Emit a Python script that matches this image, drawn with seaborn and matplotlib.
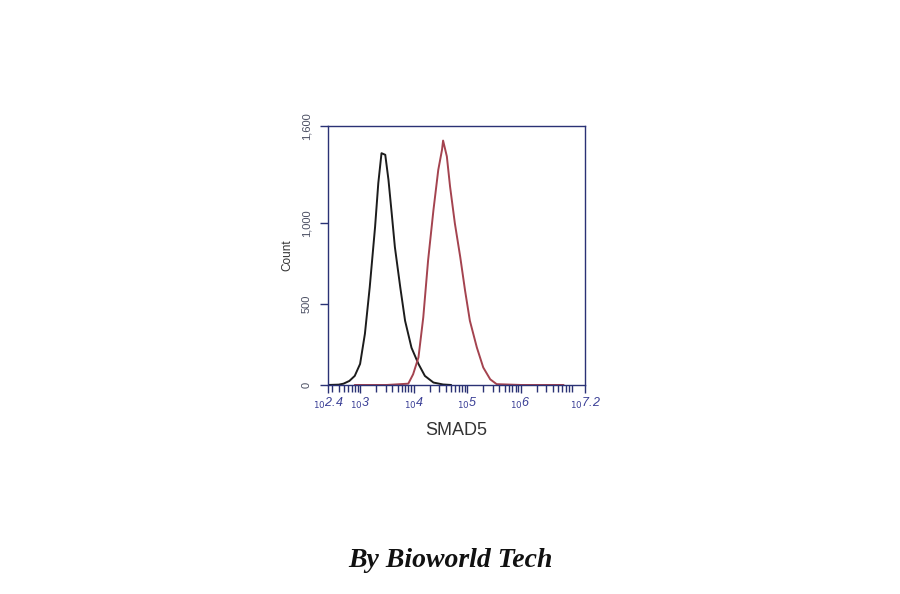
import numpy as np
import pandas as pd
import matplotlib
matplotlib.use("Agg")
import matplotlib.pyplot as plt
import matplotlib.ticker as mticker
import seaborn as sns

# ---- data (x as log10 of SMAD5 intensity) ----
ctrl_log = [2.40, 2.60, 2.69, 2.80, 2.90, 3.00, 3.09, 3.18, 3.28, 3.34, 3.40, 3.47,
            3.53, 3.59, 3.65, 3.75, 3.84, 3.96, 4.09, 4.21, 4.37, 4.55, 4.70]
ctrl_cnt = [0, 2, 8, 25, 56, 130, 316, 604, 977, 1247, 1432, 1422,
            1267, 1062, 851, 604, 397, 230, 130, 56, 15, 3, 0]

smad_log = [2.90, 3.50, 3.90, 3.99, 4.09, 4.18, 4.27, 4.37, 4.46, 4.53, 4.55, 4.62,
            4.68, 4.77, 4.87, 4.96, 5.05, 5.18, 5.30, 5.43, 5.55, 6.00, 6.80]
smad_cnt = [0, 0, 8, 66, 170, 418, 770, 1081, 1329, 1453, 1510, 1412,
            1226, 998, 791, 584, 397, 232, 108, 35, 5, 0, 0]

x_min_exp, x_max_exp = 2.4, 7.2
x_tick_exps = [2.4, 3, 4, 5, 6, 7.2]
x_tick_text = ["2.4", "3", "4", "5", "6", "7.2"]
y_ticks = [0, 500, 1000, 1600]
y_tick_text = ["0", "500", "1,000", "1,600"]

df = pd.concat([
    pd.DataFrame({"x": 10 ** np.array(ctrl_log), "count": ctrl_cnt, "s": "ctrl"}),
    pd.DataFrame({"x": 10 ** np.array(smad_log), "count": smad_cnt, "s": "smad"}),
])

sns.set_style("white")
plt.rcParams["font.family"] = ["Liberation Sans", "DejaVu Sans"]

fig = plt.figure(figsize=(9, 5.94), dpi=100)
ax = fig.add_axes([0.3644, 0.3519, 0.2856, 0.436])

navy = "#2a3275"
sns.lineplot(data=df, x="x", y="count", hue="s", palette={"ctrl": "#1c1c1c", "smad": "#a4434f"},
             ax=ax, legend=False, linewidth=1.4, sort=False, estimator=None)
ax.set_xscale("log")
ax.set_xlim(10 ** x_min_exp, 10 ** x_max_exp)
ax.set_ylim(0, 1600)

for sp in ax.spines.values():
    sp.set_color(navy)
    sp.set_linewidth(1.0)

ax.set_xticks([10 ** e for e in x_tick_exps])
ax.set_xticklabels([r"${}_{10}$" + t for t in x_tick_text], color="#3a3f96",
                   fontsize=9, style="italic")
ax.xaxis.set_minor_locator(mticker.LogLocator(base=10, subs=np.arange(2, 10), numticks=20))
ax.xaxis.set_minor_formatter(mticker.NullFormatter())
ax.tick_params(axis="x", which="major", direction="out", length=6, width=1, color=navy, pad=2, bottom=True)
ax.tick_params(axis="x", which="minor", direction="out", length=5, width=1, color=navy, bottom=True)

ax.set_yticks(y_ticks)
ax.set_yticklabels(y_tick_text, rotation=90, va="center", color="#4a4e62", fontsize=8)
ax.tick_params(axis="y", which="major", direction="out", length=6, width=1, color=navy, pad=6, left=True)

ax.set_xlabel("SMAD5", fontsize=13, color="#333333", labelpad=8)
ax.set_ylabel("Count", fontsize=8.5, color="#333333", labelpad=6)

fig.text(0.5, 0.057, "By Bioworld Tech", ha="center", va="center",
         family=["Liberation Serif", "DejaVu Serif"], style="italic", weight="bold",
         fontsize=20, color="#111111")

fig.savefig("out.png", dpi=100, facecolor="white")
